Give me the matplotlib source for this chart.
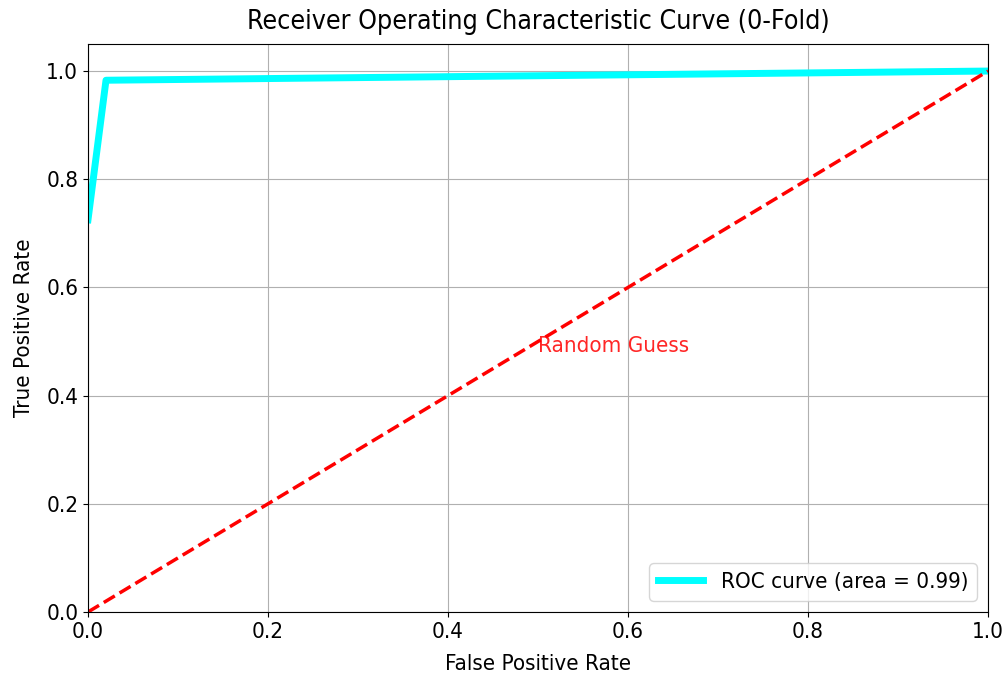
import matplotlib
matplotlib.use('Agg')
import matplotlib.pyplot as plt

# ROC curve points
fpr = [0.0, 0.02, 1.0]
tpr = [0.725, 0.983, 1.0]
roc_auc = 0.99
fold = 0

plt.rcParams['font.size'] = 16
plt.rcParams['font.stretch'] = 'condensed'

fig = plt.figure(figsize=(10.08, 6.79), dpi=100)
ax = fig.add_axes([0.0873, 0.0987, 0.8929, 0.8365])

ax.plot(fpr, tpr, color='cyan', lw=5, label='ROC curve (area = %0.2f)' % roc_auc)
ax.plot([0, 1], [0, 1], color='red', lw=2.5, linestyle='--')
ax.text(0.5, 0.48, 'Random Guess', color='red', alpha=0.85)
ax.set_xlim([0.0, 1.0])
ax.set_ylim([0.0, 1.05])
ax.set_xlabel('False Positive Rate', labelpad=9)
ax.set_ylabel('True Positive Rate', labelpad=9)
ax.set_title('Receiver Operating Characteristic Curve (%d-Fold)' % fold, pad=11)
ax.grid(True)
ax.legend(loc='lower right')

fig.savefig('out.png', dpi=100)
